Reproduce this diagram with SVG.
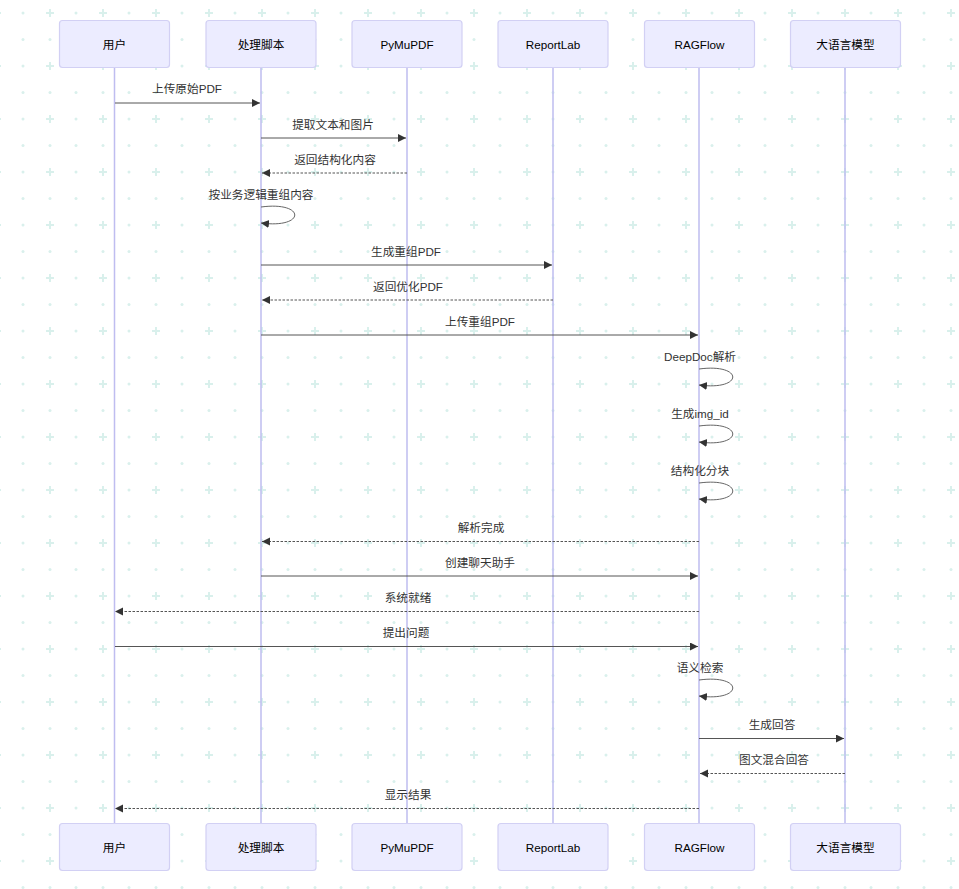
<svg xmlns="http://www.w3.org/2000/svg" width="959" height="889" viewBox="0 0 959 889">
<style>
.actor{fill:#ececff;stroke:#d2d0f4;stroke-width:1.2}
.lt{font:11.67px "Liberation Sans","Noto Sans CJK SC",sans-serif;fill:#000;text-anchor:middle}
.ml{font:11.67px "Liberation Sans","Noto Sans CJK SC",sans-serif;fill:#333;text-anchor:middle}
.life{stroke:#bfbdf0;stroke-width:1.5;fill:none}
.msg{stroke:#555;stroke-width:1;fill:none}
.dash{stroke-dasharray:2.5 1.5}
.s{fill:none;stroke:#666;stroke-width:1}
</style>
<defs>
<marker id="a" markerUnits="userSpaceOnUse" markerWidth="9" markerHeight="9" refX="8" refY="4" orient="auto"><path d="M0 0L8 4L0 8z" fill="#333"/></marker>
<pattern id="bg" width="53" height="53" patternUnits="userSpaceOnUse" x="10" y="0">
<g fill="#d9f0ec"><circle cx="13" cy="13" r="1.5"/><circle cx="13" cy="39.500" r="1.5"/><circle cx="40" cy="39.500" r="1.5"/><path d="M36 12h8v2h-8zM39 9h2v8h-2z"/></g>
</pattern>
</defs>
<rect width="959" height="889" fill="#fff"/>
<rect width="959" height="889" fill="url(#bg)"/>
<g id="lifelines">
<path class="life" d="M114.500 68V824M261 68V824M407 68V824M553 68V824M699 68V824M845 68V824"/>
</g>
<g id="connectors">
<path class="msg" marker-end="url(#a)" d="M115 103H260"/>
<path class="msg" marker-end="url(#a)" d="M261 138H406"/>
<path class="msg dash" marker-end="url(#a)" d="M407 173H262"/>
<path class="s" marker-end="url(#a)" d="M261 207C306 201 306 229 261 223"/>
<path class="msg" marker-end="url(#a)" d="M261 265H552"/>
<path class="msg dash" marker-end="url(#a)" d="M553 300H262"/>
<path class="msg" marker-end="url(#a)" d="M261 335H698"/>
<path class="s" marker-end="url(#a)" d="M699 369C744 363 744 391 699 385"/>
<path class="s" marker-end="url(#a)" d="M699 426C744 420 744 448 699 442"/>
<path class="s" marker-end="url(#a)" d="M699 483C744 477 744 505 699 499"/>
<path class="msg dash" marker-end="url(#a)" d="M699 541.500H262"/>
<path class="msg" marker-end="url(#a)" d="M261 576H698"/>
<path class="msg dash" marker-end="url(#a)" d="M699 611.500H115"/>
<path class="msg" marker-end="url(#a)" d="M115 646.500H698"/>
<path class="s" marker-end="url(#a)" d="M699 680C744 674 744 702 699 696"/>
<path class="msg" marker-end="url(#a)" d="M699 738.500H844"/>
<path class="msg dash" marker-end="url(#a)" d="M845 773.500H700"/>
<path class="msg dash" marker-end="url(#a)" d="M699 808.500H115"/>
</g>
<g id="labels">
<text class="ml" x="187" y="92.500">上传原始PDF</text>
<text class="ml" x="333" y="129">提取文本和图片</text>
<text class="ml" x="335" y="164">返回结构化内容</text>
<text class="ml" x="261" y="199">按业务逻辑重组内容</text>
<text class="ml" x="406" y="256">生成重组PDF</text>
<text class="ml" x="408" y="291">返回优化PDF</text>
<text class="ml" x="480" y="326">上传重组PDF</text>
<text class="ml" x="700" y="361">DeepDoc解析</text>
<text class="ml" x="700" y="418">生成img_id</text>
<text class="ml" x="700" y="475">结构化分块</text>
<text class="ml" x="481" y="532">解析完成</text>
<text class="ml" x="480" y="567">创建聊天助手</text>
<text class="ml" x="408" y="602">系统就绪</text>
<text class="ml" x="406" y="637">提出问题</text>
<text class="ml" x="700" y="672">语义检索</text>
<text class="ml" x="772" y="729">生成回答</text>
<text class="ml" x="774" y="764">图文混合回答</text>
<text class="ml" x="408" y="799">显示结果</text>
</g>
<g id="n1"><rect class="actor" x="59.500" y="20.500" width="110" height="47" rx="3"/><text class="lt" x="114.500" y="49">用户</text></g>
<g id="n2"><rect class="actor" x="206" y="20.500" width="110" height="47" rx="3"/><text class="lt" x="261" y="49">处理脚本</text></g>
<g id="n3"><rect class="actor" x="352" y="20.500" width="110" height="47" rx="3"/><text class="lt" x="407" y="49">PyMuPDF</text></g>
<g id="n4"><rect class="actor" x="498" y="20.500" width="110" height="47" rx="3"/><text class="lt" x="553" y="49">ReportLab</text></g>
<g id="n5"><rect class="actor" x="644.500" y="20.500" width="110" height="47" rx="3"/><text class="lt" x="699.500" y="49">RAGFlow</text></g>
<g id="n6"><rect class="actor" x="790.500" y="20.500" width="110" height="47" rx="3"/><text class="lt" x="845.500" y="49">大语言模型</text></g>
<g id="n7"><rect class="actor" x="59.500" y="823.500" width="110" height="47" rx="3"/><text class="lt" x="114.500" y="852">用户</text></g>
<g id="n8"><rect class="actor" x="206" y="823.500" width="110" height="47" rx="3"/><text class="lt" x="261" y="852">处理脚本</text></g>
<g id="n9"><rect class="actor" x="352" y="823.500" width="110" height="47" rx="3"/><text class="lt" x="407" y="852">PyMuPDF</text></g>
<g id="n10"><rect class="actor" x="498" y="823.500" width="110" height="47" rx="3"/><text class="lt" x="553" y="852">ReportLab</text></g>
<g id="n11"><rect class="actor" x="644.500" y="823.500" width="110" height="47" rx="3"/><text class="lt" x="699.500" y="852">RAGFlow</text></g>
<g id="n12"><rect class="actor" x="790.500" y="823.500" width="110" height="47" rx="3"/><text class="lt" x="845.500" y="852">大语言模型</text></g>
</svg>
